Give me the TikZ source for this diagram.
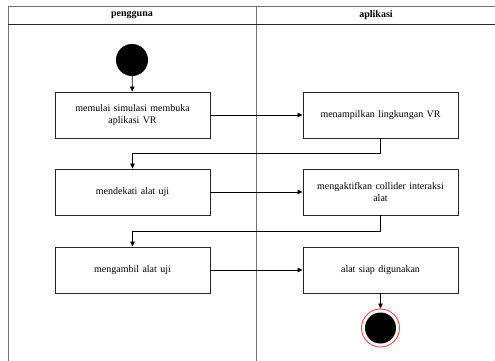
\documentclass[tikz,border=0pt]{standalone}
\usepackage{fontspec}
\setmainfont{Liberation Serif}
\usetikzlibrary{arrows.meta}
\begin{document}
\begin{tikzpicture}[x=1pt,y=-1pt,
  act/.style={draw=black!85,line width=0.9pt,minimum width=155pt,minimum height=46pt,align=center,inner sep=2pt,font=\fontsize{10}{12}\selectfont,text width=150pt},
  flow/.style={draw=black,line width=0.8pt,-{Triangle[length=5pt,width=4.5pt]}},
  lane/.style={draw=black!55,line width=1pt},
  hdr/.style={font=\bfseries\fontsize{10}{12}\selectfont}]
\useasboundingbox (0,0) rectangle (495,360);
% swimlane frame
\draw[lane] (8,6) -- (497,6);
\draw[lane] (8,6) -- (8,362);
\draw[lane] (256,6) -- (256,362);
\draw[draw=black!85,line width=1pt] (8,24) -- (497,24);
\node[hdr] (h1) at (132,15) {pengguna};
\node[hdr] (h2) at (376,15) {aplikasi};
% start
\node[circle,fill=black,minimum size=32pt,inner sep=0pt] (start) at (132,60) {};
% activities
\node[act] (a1) at (132.5,115) {memulai simulasi membuka\\aplikasi VR};
\node[act] (a2) at (380.5,115) {menampilkan lingkungan VR};
\node[act] (a3) at (132.5,192) {mendekati alat uji};
\node[act] (a4) at (380.5,192) {mengaktifkan collider interaksi\\alat};
\node[act] (a5) at (132.5,270) {mengambil alat uji};
\node[act] (a6) at (380.5,270) {alat siap digunakan};
% end
\node[circle,fill=black,minimum size=31pt,inner sep=0pt] (endin) at (380.5,328) {};
\node[circle,draw=red!70,line width=0.9pt,minimum size=38pt,inner sep=0pt] (end) at (380.5,328) {};
% flows
\draw[flow] (start) -- (a1);
\draw[flow] (a1) -- (a2);
\draw[flow] (a2.south) -- ++(0,15) -| (a3.north);
\draw[flow] (a3) -- (a4);
\draw[flow] (a4.south) -- ++(0,16) -| (a5.north);
\draw[flow] (a5) -- (a6);
\draw[flow] (a6) -- (end);
\end{tikzpicture}
\end{document}
